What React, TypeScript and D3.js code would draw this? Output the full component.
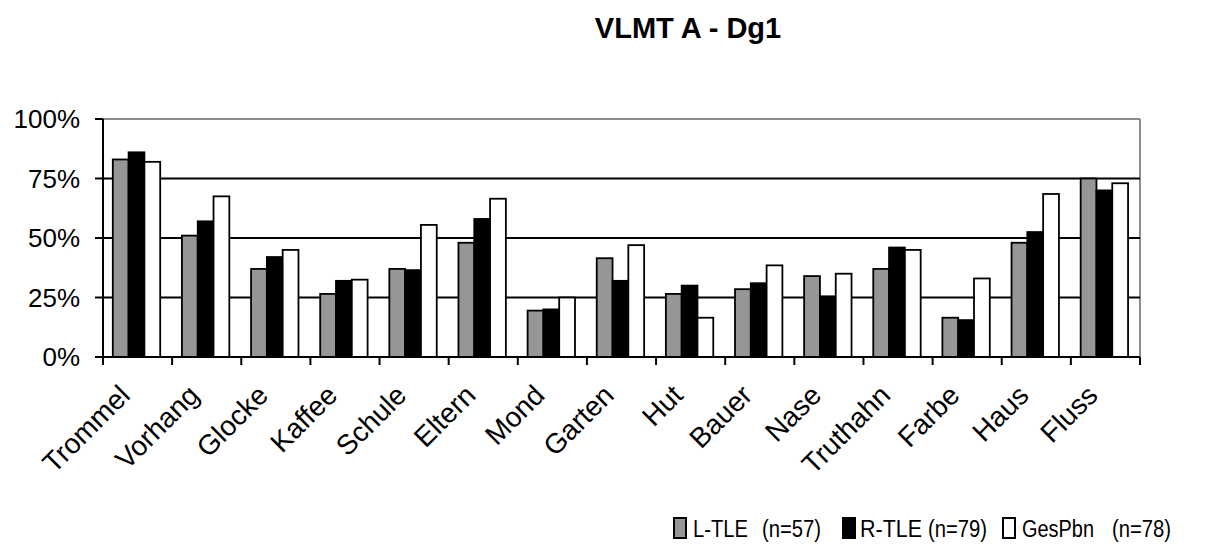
import React from "react";
import * as d3 from "d3";

const categories = ["Trommel", "Vorhang", "Glocke", "Kaffee", "Schule", "Eltern", "Mond", "Garten", "Hut", "Bauer", "Nase", "Truthahn", "Farbe", "Haus", "Fluss"];
const seriesNames = ["L-TLE", "R-TLE", "GesPbn"];
const seriesN = ["(n=57)", "(n=79)", "(n=78)"];
const seriesFill = ["#969696", "#000000", "#ffffff"];
const lTLE = [83, 51, 37, 26.5, 37, 48, 19.5, 41.5, 26.5, 28.5, 34, 37, 16.5, 48, 75];
const rTLE = [86, 57, 42, 32, 36.5, 58, 20, 32, 30, 31, 25.5, 46, 15.5, 52.5, 70];
const gesPbn = [82, 67.5, 45, 32.5, 55.5, 66.5, 25, 47, 16.5, 38.5, 35, 45, 33, 68.5, 73];
const yTicks = [0, 25, 50, 75, 100];

const W = 1221, H = 545;
const left = 103, right = 1140, top = 119, bottom = 357;

export default function App() {
  const values = [lTLE, rTLE, gesPbn];
  const x = d3.scaleBand<string>().domain(categories).range([left, right]).padding(0);
  const xi = d3.scaleBand<number>().domain([0, 1, 2]).range([9.8, 57.2]).padding(0);
  const y = d3.scaleLinear().domain([0, 100]).range([bottom, top]);
  const font = "Arial, 'Liberation Sans', sans-serif";
  const legendX = [674, 843, 1003];
  const legendTextX = [693, 860, 1022];
  const legendNX = [762, 928, 1112];
  const legendW = [55, 62, 72];

  return (
    <svg width={W} height={H} style={{ position: "absolute", left: 0, top: 0, background: "#fff" }} fontFamily={font}>
      <rect x={0} y={0} width={W} height={H} fill="#fff" />
      <text x={688} y={38} textAnchor="middle" fontSize={29} fontWeight="bold" fill="#000">VLMT A - Dg1</text>
      {/* plot border top/right */}
      <line x1={left} x2={right} y1={y(100)} y2={y(100)} stroke="#8c8c8c" strokeWidth={2} />
      <line x1={right} x2={right} y1={y(100)} y2={bottom} stroke="#8c8c8c" strokeWidth={2} />
      {/* gridlines */}
      {[25, 50, 75].map((t) => (
        <line key={t} x1={left} x2={right} y1={y(t)} y2={y(t)} stroke="#000" strokeWidth={2} />
      ))}
      {/* bars */}
      {categories.map((c, ci) => (
        <g key={c} transform={`translate(${x(c)},0)`}>
          {values.map((vals, si) => (
            <rect
              key={si}
              x={xi(si)}
              y={y(vals[ci])}
              width={xi.bandwidth()}
              height={bottom - y(vals[ci])}
              fill={seriesFill[si]}
              stroke="#000"
              strokeWidth={1.8}
            />
          ))}
        </g>
      ))}
      {/* axes */}
      <line x1={left} x2={left} y1={y(100)} y2={bottom} stroke="#000" strokeWidth={2} />
      <line x1={left - 8} x2={right} y1={bottom} y2={bottom} stroke="#000" strokeWidth={2} />
      {yTicks.map((t) => (
        <g key={t}>
          <line x1={left - 8} x2={left} y1={y(t)} y2={y(t)} stroke="#000" strokeWidth={2} />
          <text x={80} y={y(t) + 9} textAnchor="end" fontSize={26} fill="#000">{t}%</text>
        </g>
      ))}
      {[...categories.map((c) => x(c) as number), right].map((px, i) => (
        <line key={i} x1={px} x2={px} y1={bottom} y2={bottom + 8} stroke="#000" strokeWidth={2} />
      ))}
      {categories.map((c) => {
        const cx = (x(c) as number) + x.bandwidth() / 2;
        const ax = cx - 6, ay = 397;
        return (
          <text key={c} x={ax} y={ay} transform={`rotate(-45 ${ax} ${ay})`} textAnchor="end" fontSize={28} fill="#000">{c}</text>
        );
      })}
      {/* legend */}
      {seriesNames.map((s, i) => (
        <g key={s}>
          <rect x={legendX[i]} y={518} width={12} height={20} fill={seriesFill[i]} stroke="#000" strokeWidth={2} />
          <text x={legendTextX[i]} y={537} fontSize={23} textLength={legendW[i]} lengthAdjust="spacingAndGlyphs" fill="#000">{s}</text>
          <text x={legendNX[i]} y={537} fontSize={23} textLength={59} lengthAdjust="spacingAndGlyphs" fill="#000">{seriesN[i]}</text>
        </g>
      ))}
    </svg>
  );
}
